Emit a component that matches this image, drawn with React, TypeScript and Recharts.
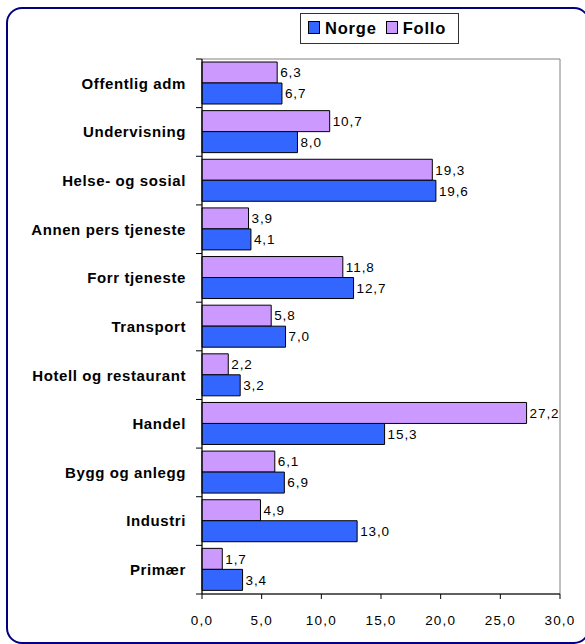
import React from "react";
import {
  BarChart,
  Bar,
  XAxis,
  YAxis,
  LabelList,
  ReferenceArea,
} from "recharts";

const categories = [
  "Offentlig adm",
  "Undervisning",
  "Helse- og sosial",
  "Annen pers tjeneste",
  "Forr tjeneste",
  "Transport",
  "Hotell og restaurant",
  "Handel",
  "Bygg og anlegg",
  "Industri",
  "Primær",
];
const norge = [6.7, 8.0, 19.6, 4.1, 12.7, 7.0, 3.2, 15.3, 6.9, 13.0, 3.4];
const follo = [6.3, 10.7, 19.3, 3.9, 11.8, 5.8, 2.2, 27.2, 6.1, 4.9, 1.7];
const xTicks = [0, 5, 10, 15, 20, 25, 30];

const data = categories.map((c, i) => ({ name: c, Norge: norge[i], Follo: follo[i] }));

const W = 585;
const H = 644;
const M_TOP = 59;
const M_RIGHT = 25;
const M_BOTTOM = 10;
const X_AXIS_H = 40;
const Y_AXIS_W = 202;
const BAND = (H - M_TOP - M_BOTTOM - X_AXIS_H) / categories.length;
const FONT = "'Liberation Sans', Arial, sans-serif";

const fmt = (v: any) => Number(v).toFixed(1).replace(".", ",");

const YTick = (props: any) => {
  const { y, payload, index } = props;
  const ax = Y_AXIS_W;
  return (
    <g>
      <line x1={ax - 6} x2={ax} y1={y - BAND / 2} y2={y - BAND / 2} stroke="#000" />
      {index === categories.length - 1 && (
        <line x1={ax - 6} x2={ax} y1={y + BAND / 2} y2={y + BAND / 2} stroke="#000" />
      )}
      <text
        x={ax - 16}
        y={y}
        dy="0.36em"
        textAnchor="end"
        fontFamily={FONT}
        fontWeight="bold"
        fontSize={15}
        letterSpacing={0.6}
        fill="#000"
      >
        {payload.value}
      </text>
    </g>
  );
};

const Swatch = ({ color }: { color: string }) => (
  <span
    style={{
      display: "inline-block",
      width: 10,
      height: 11,
      background: color,
      border: "1px solid #000",
      marginRight: 5,
      verticalAlign: "middle",
      position: "relative",
      top: -1,
    }}
  />
);

export default function App() {
  return (
    <div
      style={{
        position: "absolute",
        left: 0,
        top: 0,
        width: W,
        height: H,
        overflow: "hidden",
        background: "#fff",
        fontFamily: FONT,
      }}
    >
      <div
        style={{
          position: "absolute",
          left: 6,
          top: 7,
          width: 584,
          height: 637,
          border: "2.5px solid #000080",
          borderRadius: 16,
          boxSizing: "border-box",
        }}
      />
      <BarChart
        width={W}
        height={H}
        data={data}
        layout="vertical"
        margin={{ top: M_TOP, right: M_RIGHT, bottom: M_BOTTOM, left: 0 }}
        barCategoryGap={3}
        barGap={0}
      >
        <ReferenceArea x1={0} x2={30} fill="none" stroke="#808080" strokeWidth={1} ifOverflow="visible" />
        <XAxis
          type="number"
          domain={[0, 30]}
          ticks={xTicks}
          tickFormatter={fmt}
          height={X_AXIS_H}
          tickSize={5}
          tickMargin={16}
          axisLine={{ stroke: "#000" }}
          tickLine={{ stroke: "#000" }}
          tick={{ fill: "#000", fontSize: 13.5, letterSpacing: 1.2, fontFamily: FONT } as any}
          interval={0}
        />
        <YAxis
          type="category"
          dataKey="name"
          width={Y_AXIS_W}
          tickLine={false}
          axisLine={{ stroke: "#000" }}
          tick={<YTick />}
          interval={0}
        />
        <Bar dataKey="Follo" fill="#CC99FF" stroke="#000" strokeWidth={1} isAnimationActive={false}>
          <LabelList
            dataKey="Follo"
            position="right"
            offset={3}
            formatter={fmt}
            fill="#000"
            fontSize={13.5}
            letterSpacing={0.9}
            fontFamily={FONT}
          />
        </Bar>
        <Bar dataKey="Norge" fill="#3366FF" stroke="#000" strokeWidth={1} isAnimationActive={false}>
          <LabelList
            dataKey="Norge"
            position="right"
            offset={3}
            formatter={fmt}
            fill="#000"
            fontSize={13.5}
            letterSpacing={0.9}
            fontFamily={FONT}
          />
        </Bar>
      </BarChart>
      <div
        style={{
          position: "absolute",
          left: 300,
          top: 13,
          width: 159,
          height: 31,
          border: "1px solid #333",
          boxSizing: "border-box",
          display: "flex",
          alignItems: "center",
          paddingLeft: 7,
          fontWeight: "bold",
          fontSize: 16.5,
          letterSpacing: 0.8,
          color: "#000",
          whiteSpace: "nowrap",
        }}
      >
        <Swatch color="#3366FF" />
        <span style={{ marginRight: 9 }}>Norge</span>
        <Swatch color="#CC99FF" />
        <span>Follo</span>
      </div>
    </div>
  );
}
